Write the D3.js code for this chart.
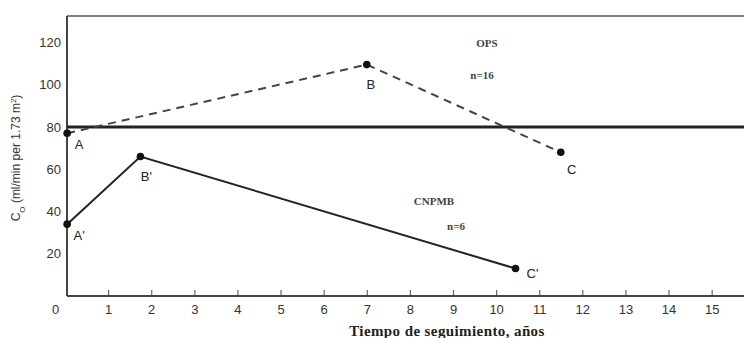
<!DOCTYPE html>
<html lang="es">
<head>
  <meta charset="utf-8">
  <title>Co vs tiempo de seguimiento</title>
  <script src="https://d3js.org/d3.v7.min.js"></script>
  <style>
    body { margin: 0; background: #fff; }
    .tick text { font: 13px "Liberation Sans", Arial, sans-serif; fill: #333; }
    .pt { font: 13px "Liberation Sans", Arial, sans-serif; fill: #222; }
    .grp { font: bold 11px "Liberation Serif", serif; fill: #444; }
    .xlab { font: bold 15px "Liberation Serif", serif; fill: #222; letter-spacing: 0.4px; }
    .ylab { font: 12px "Liberation Sans", Arial, sans-serif; fill: #333; }
  </style>
</head>
<body>
  <svg width="744" height="338"></svg>
  <script>
    // datos (años, ml/min per 1.73 m2)
    var opsAnios = [0.05, 7.0, 11.5];
    var opsValores = [77, 109.5, 68];
    var opsEtiquetas = ["A", "B", "C"];
    var cnpmbAnios = [0.05, 1.75, 10.45];
    var cnpmbValores = [34, 66, 13];
    var cnpmbEtiquetas = ["A'", "B'", "C'"];
    var referencia = 80;
    var xTicks = d3.range(0, 16);
    var yTicks = [20, 40, 60, 80, 100, 120];

    var svg = d3.select("svg"),
      width = +svg.attr("width"),
      height = +svg.attr("height");

    var x = d3.scaleLinear().domain([0, 15.75]).range([65, 744]);
    var y = d3.scaleLinear().domain([0, 132.5]).range([296, 16]);
    var x0 = 67;

    // marco: borde superior
    svg.append("line")
      .attr("x1", x0).attr("x2", width)
      .attr("y1", y(132.5)).attr("y2", y(132.5))
      .attr("stroke", "#555").attr("stroke-width", 1.6);

    // eje x
    var gx = svg.append("g")
      .attr("transform", "translate(0," + y(0) + ")")
      .call(d3.axisBottom(x).tickValues(xTicks).tickSize(-6).tickPadding(9).tickFormat(d3.format("d")));
    gx.select(".domain").remove();
    gx.selectAll(".tick line").attr("stroke", "#666").attr("stroke-width", 1.2);
    // el 0 va corrido a la izquierda, sin marca
    gx.selectAll(".tick").filter(d => d === 0).each(function() {
      d3.select(this).select("line").remove();
      d3.select(this).select("text").attr("dx", -10);
    });
    svg.append("line")
      .attr("x1", x0).attr("x2", width)
      .attr("y1", y(0)).attr("y2", y(0))
      .attr("stroke", "#444").attr("stroke-width", 2);

    // eje y
    var gy = svg.append("g")
      .attr("transform", "translate(" + x0 + ",0)")
      .call(d3.axisLeft(y).tickValues(yTicks).tickSize(0).tickPadding(6));
    gy.select(".domain").remove();
    svg.append("line")
      .attr("x1", x0).attr("x2", x0)
      .attr("y1", y(132.5)).attr("y2", y(0))
      .attr("stroke", "#444").attr("stroke-width", 2);

    // línea de referencia
    svg.append("line")
      .attr("x1", x0).attr("x2", width)
      .attr("y1", y(referencia)).attr("y2", y(referencia))
      .attr("stroke", "#222").attr("stroke-width", 3);

    var linea = d3.line().x(d => x(d[0])).y(d => y(d[1]));
    var ops = opsAnios.map((a, i) => [a, opsValores[i], opsEtiquetas[i]]);
    var cnpmb = cnpmbAnios.map((a, i) => [a, cnpmbValores[i], cnpmbEtiquetas[i]]);

    svg.append("path").datum(ops)
      .attr("d", linea).attr("fill", "none")
      .attr("stroke", "#444").attr("stroke-width", 2)
      .attr("stroke-dasharray", "8,6");
    svg.append("path").datum(cnpmb)
      .attr("d", linea).attr("fill", "none")
      .attr("stroke", "#222").attr("stroke-width", 2);

    svg.selectAll("circle.p").data(ops.concat(cnpmb)).enter()
      .append("circle").attr("class", "p")
      .attr("cx", d => x(d[0])).attr("cy", d => y(d[1]))
      .attr("r", 3.8).attr("fill", "#111");

    // etiquetas de puntos
    var off = { "A": [12, 16], "B": [4, 24], "C": [11, 22], "A'": [12, 16], "B'": [6, 24], "C'": [17, 9] };
    svg.selectAll("text.pt").data(ops.concat(cnpmb)).enter()
      .append("text").attr("class", "pt")
      .attr("x", d => x(d[0]) + off[d[2]][0])
      .attr("y", d => y(d[1]) + off[d[2]][1])
      .attr("text-anchor", "middle")
      .text(d => d[2]);

    // grupos
    svg.append("text").attr("class", "grp").attr("x", 487).attr("y", 47).attr("text-anchor", "middle").text("OPS");
    svg.append("text").attr("class", "grp").attr("x", 482).attr("y", 79).attr("text-anchor", "middle").text("n=16");
    svg.append("text").attr("class", "grp").attr("x", 434).attr("y", 205).attr("text-anchor", "middle").text("CNPMB");
    svg.append("text").attr("class", "grp").attr("x", 456).attr("y", 230).attr("text-anchor", "middle").text("n=6");

    // títulos
    svg.append("text").attr("class", "xlab")
      .attr("x", 447).attr("y", 336).attr("text-anchor", "middle")
      .text("Tiempo de seguimiento, años");
    var yl = svg.append("text").attr("class", "ylab")
      .attr("transform", "translate(20,158) rotate(-90)")
      .attr("text-anchor", "middle");
    yl.append("tspan").text("C");
    yl.append("tspan").attr("baseline-shift", "sub").style("font-size", "8px").text("O");
    yl.append("tspan").text(" (ml/min per 1.73 m");
    yl.append("tspan").attr("baseline-shift", "super").style("font-size", "8px").text("2");
    yl.append("tspan").text(")");
  </script>
</body>
</html>
